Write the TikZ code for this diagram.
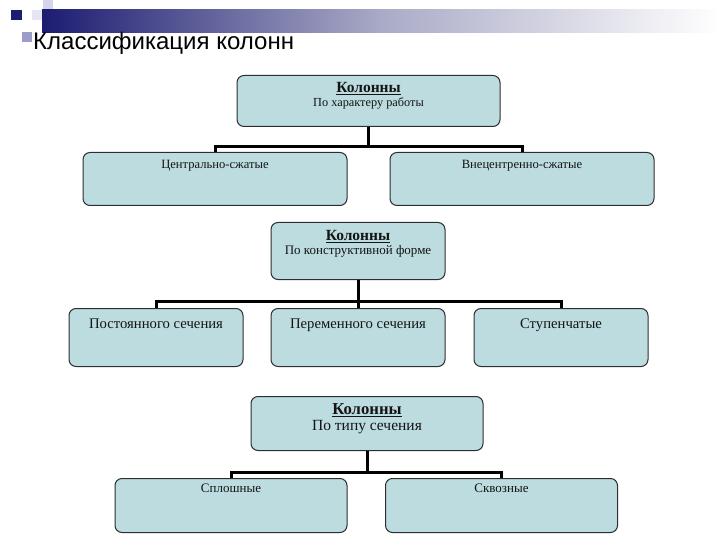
\documentclass[tikz,border=0pt]{standalone}
\usepackage{fontspec}
\setmainfont{Liberation Serif}
\newfontfamily\headfont{Liberation Sans}
\usepackage{tikz}
\usetikzlibrary{positioning, calc}
\usepackage{xcolor}
\definecolor{BoxFill}{HTML}{BCDCE0}
\definecolor{BoxLine}{HTML}{2A2E30}
\definecolor{Navy}{HTML}{1C1C72}
\definecolor{MidBar}{HTML}{A9AAC6}
\definecolor{Lilac}{HTML}{9C9CC8}
\definecolor{PaleLilac}{HTML}{D4D4EA}
\definecolor{TextDark}{HTML}{141414}

\newcommand{\headline}[2]{{\fontsize{#1}{#1}\selectfont\bfseries\underline{#2}}}

\begin{document}
\begin{tikzpicture}[x=1pt, y=-1pt,
            box/.style={rectangle, draw=BoxLine, line width=1pt, fill=BoxFill, rounded corners=7pt, anchor=north, inner sep=0pt, align=center, text=TextDark},
            topbox/.style={box, minimum width=263pt, minimum height=51pt},
            midbox/.style={box, minimum width=174pt, minimum height=57pt},
            lowbox/.style={box, minimum width=232pt, minimum height=54pt},
            conn/.style={line width=3pt, color=black}
        ]
            \useasboundingbox (0,0) rectangle (720,540);

            % Slide header
            \fill[PaleLilac] (43,0) rectangle (53,10);
            \fill[PaleLilac!60] (32,10) rectangle (43,20);
            \fill[Lilac] (22,32) rectangle (32,42);
            \fill[Navy] (11,10) rectangle (22,20);
            \shade[left color=Navy, right color=MidBar] (42,10) rectangle (380,33);
            \shade[left color=MidBar, right color=white] (380,10) rectangle (720,33);
            \node[anchor=base west, inner sep=0pt, font=\headfont\fontsize{24}{24}\selectfont] (title) at (33,50) {Классификация колонн};

            % By type of work
            \node[topbox, text height=31pt, text depth=20pt] (work) at (368.5,75) {\headline{15.5}{Колонны}\\[2pt]{\fontsize{12.3}{12.3}\selectfont По характеру работы}};
            \node[box, minimum width=264pt, minimum height=53pt, text height=16pt, text depth=37pt, font=\fontsize{12.6}{12.6}\selectfont] (central) at (215,152) {Центрально-сжатые};
            \node[box, minimum width=264pt, minimum height=53pt, text height=16pt, text depth=37pt, font=\fontsize{12.6}{12.6}\selectfont] (eccentric) at (522,152) {Внецентренно-сжатые};

            % By structural form
            \node[midbox, text height=32pt, text depth=25pt] (form) at (358,222) {\headline{15.5}{Колонны}\\[2pt]{\fontsize{13}{13}\selectfont По конструктивной форме}};
            \node[midbox, minimum height=58pt, text height=20pt, text depth=38pt, font=\fontsize{14.7}{14.7}\selectfont] (constant) at (156,308) {Постоянного сечения};
            \node[midbox, minimum height=58pt, text height=20pt, text depth=38pt, font=\fontsize{14.7}{14.7}\selectfont] (variable) at (358,308) {Переменного сечения};
            \node[midbox, minimum height=58pt, text height=20pt, text depth=38pt, font=\fontsize{14.7}{14.7}\selectfont] (stepped) at (561,308) {Ступенчатые};

            % By section type
            \node[lowbox, text height=34pt, text depth=20pt] (section) at (367,396) {\headline{16.7}{Колонны}\\[3pt]{\fontsize{15.5}{15.5}\selectfont По типу сечения}};
            \node[lowbox, text height=14pt, text depth=40pt, font=\fontsize{13}{13}\selectfont] (solid) at (231,478) {Сплошные};
            \node[lowbox, text height=14pt, text depth=40pt, font=\fontsize{13}{13}\selectfont] (lattice) at (501.5,478) {Сквозные};

            % Connections
            \coordinate (busA) at (368.5,147);
            \coordinate (busB) at (358,301);
            \coordinate (busC) at (367,472);
            \draw[conn] (work.south) -- (busA);
            \draw[conn] (central.north) |- (busA) -| (eccentric.north);
            \draw[conn] (form.south) -- (busB);
            \draw[conn] (constant.north) |- (busB) -| (stepped.north);
            \draw[conn] (busB) -- (variable.north);
            \draw[conn] (section.south) -- (busC);
            \draw[conn] (solid.north) |- (busC) -| (lattice.north);
        \end{tikzpicture}
\end{document}
